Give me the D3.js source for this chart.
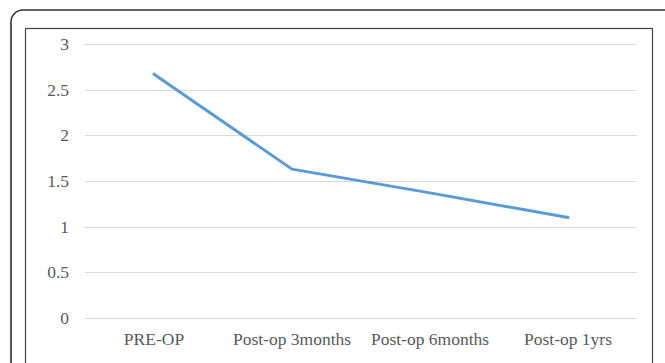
<!DOCTYPE html>
<html><head><meta charset="utf-8">
<script src="https://cdn.jsdelivr.net/npm/d3@7"></script>
<style>body{margin:0;background:#fff}svg{display:block}</style>
</head><body>
<svg id="c" width="665" height="363"></svg>
<script>
const categories = ["PRE-OP", "Post-op 3months", "Post-op 6months", "Post-op 1yrs"];
const values = [2.67, 1.63, 1.37, 1.10];
const yTicks = [0, 0.5, 1, 1.5, 2, 2.5, 3];

const svg = d3.select("#c");
// frames
svg.append("rect").attr("x", 11).attr("y", 10).attr("width", 670).attr("height", 380)
  .attr("rx", 12).attr("fill", "none").attr("stroke", "#333").attr("stroke-width", 1.6);
svg.append("rect").attr("x", 25.5).attr("y", 28.5).attr("width", 627).attr("height", 360)
  .attr("fill", "none").attr("stroke", "#444").attr("stroke-width", 1.2);

const x = d3.scaleBand().domain(categories).range([85, 637]);
const y = d3.scaleLinear().domain([0, 3]).range([318, 44]);

const grid = svg.append("g");
grid.selectAll("line").data(yTicks).join("line")
  .attr("x1", 85).attr("x2", 637)
  .attr("y1", d => Math.round(y(d)) + 0.5).attr("y2", d => Math.round(y(d)) + 0.5)
  .attr("stroke", "#d9d9d9").attr("stroke-width", 1.2);

const yAxis = svg.append("g").attr("transform", "translate(69,0)")
  .call(d3.axisLeft(y).tickValues(yTicks).tickSize(0).tickPadding(0).tickFormat(d3.format("")));
yAxis.select(".domain").remove();
yAxis.selectAll("text").attr("fill", "#595959").attr("font-family", "'Liberation Serif', serif").attr("font-size", 17.5);

const xAxis = svg.append("g").attr("transform", "translate(0,318)")
  .call(d3.axisBottom(x).tickSize(0).tickPadding(15));
xAxis.select(".domain").remove();
xAxis.selectAll("text").attr("fill", "#595959").attr("font-family", "'Liberation Serif', serif").attr("font-size", 17.5);

const line = d3.line().x((d, i) => x(categories[i]) + x.bandwidth() / 2).y(d => y(d));
svg.append("path").datum(values).attr("d", line)
  .attr("fill", "none").attr("stroke", "#5b9bd5").attr("stroke-width", 3).attr("stroke-linejoin", "round").attr("stroke-linecap", "round");
</script>
</body></html>
